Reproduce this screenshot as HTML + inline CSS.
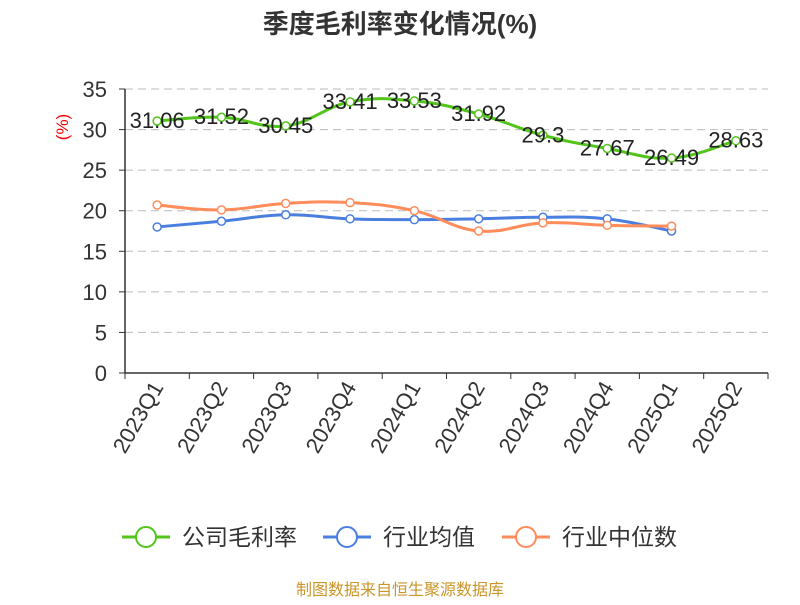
<!DOCTYPE html>
<html><head><meta charset="utf-8"><style>
body{margin:0;background:#fff;}
svg text{font-family:"Liberation Sans","Noto Sans CJK SC",sans-serif;}
</style></head><body>
<svg id="chart" width="800" height="600" viewBox="0 0 800 600" xmlns="http://www.w3.org/2000/svg">
<text x="400" y="33" text-anchor="middle" font-size="26" font-weight="bold" fill="#333">季度毛利率变化情况(%)</text>
<text transform="translate(68,127) rotate(-90)" text-anchor="middle" font-size="17" fill="#e00">(%)</text>
<g id="grid"></g><g id="axes"></g><g id="series"></g>
<g>
<g><line x1="122" y1="537" x2="170" y2="537" stroke="#52c41a" stroke-width="3"/><circle cx="146" cy="537" r="10" fill="#fff" stroke="#52c41a" stroke-width="2"/><text x="182" y="545" font-size="23" fill="#333">公司毛利率</text></g>
<g><line x1="323" y1="537" x2="371" y2="537" stroke="#4a7fe0" stroke-width="3"/><circle cx="347" cy="537" r="10" fill="#fff" stroke="#4a7fe0" stroke-width="2"/><text x="383" y="545" font-size="23" fill="#333">行业均值</text></g>
<g><line x1="502" y1="537" x2="550" y2="537" stroke="#ff8c5a" stroke-width="3"/><circle cx="526" cy="537" r="10" fill="#fff" stroke="#ff8c5a" stroke-width="2"/><text x="562" y="545" font-size="23" fill="#333">行业中位数</text></g>
</g>
<text x="400" y="595" text-anchor="middle" font-size="16" fill="#c8962a">制图数据来自恒生聚源数据库</text>
</svg>
<script>
const categories=["2023Q1","2023Q2","2023Q3","2023Q4","2024Q1","2024Q2","2024Q3","2024Q4","2025Q1","2025Q2"];
const companyMargin=[31.06,31.52,30.45,33.41,33.53,31.92,29.3,27.67,26.49,28.63];
const industryAvg=[18.0,18.7,19.5,19.0,18.9,19.0,19.2,19.0,17.5];
const industryMedian=[20.7,20.1,20.9,21.0,20.0,17.5,18.5,18.2,18.1];
const yTicks=[0,5,10,15,20,25,30,35];
const NS="http://www.w3.org/2000/svg";
const x0=125,x1=768,yb=373,yt=89,yMax=35;
const band=(x1-x0)/categories.length;
const xS=i=>x0+band*(i+0.5);
const yS=v=>yb-(v/yMax)*(yb-yt);
function mk(t,a,p){const e=document.createElementNS(NS,t);for(const k in a)e.setAttribute(k,a[k]);p.appendChild(e);return e;}
const grid=document.getElementById('grid'),axes=document.getElementById('axes'),ser=document.getElementById('series');
yTicks.forEach(v=>{
 if(v>0){const g=mk('line',{x1:x0,x2:x1,y1:yS(v),y2:yS(v),stroke:'#bbb','stroke-dasharray':'8,5'},grid);
 
 }
 const t=mk('text',{x:107,y:yS(v)+8,'text-anchor':'end','font-size':22,fill:'#333'},axes);t.textContent=v;
 
 
 mk('line',{x1:x0-6,x2:x0,y1:yS(v),y2:yS(v),stroke:'#333'},axes);
});
const ya=mk('line',{x1:x0,x2:x0,y1:yt,y2:yb,stroke:'#333','stroke-width':1.5},axes);


const xa=mk('line',{x1:x0,x2:x1,y1:yb,y2:yb,stroke:'#333','stroke-width':1.5},axes);


for(let i=0;i<=categories.length;i++)mk('line',{x1:x0+band*i,x2:x0+band*i,y1:yb,y2:yb+6,stroke:'#333'},axes);
categories.forEach((c,i)=>{
 const t=mk('text',{transform:`translate(${xS(i)+7},${yb+14}) rotate(-60)`,'text-anchor':'end','font-size':22,fill:'#333'},axes);
 t.textContent=c;
 
 
});
function smooth(pts){
 let d=`M${pts[0][0]},${pts[0][1]}`;
 for(let i=0;i<pts.length-1;i++){
  const p0=pts[i-1]||pts[i],p1=pts[i],p2=pts[i+1],p3=pts[i+2]||p2,k=0.2;
  d+=` C${p1[0]+(p2[0]-p0[0])*k},${p1[1]+(p2[1]-p0[1])*k} ${p2[0]-(p3[0]-p1[0])*k},${p2[1]-(p3[1]-p1[1])*k} ${p2[0]},${p2[1]}`;
 }return d;}
function drawSeries(vals,color,name,labels){
 const g=mk('g',{},ser);
 
 
 const pts=vals.map((v,i)=>[xS(i),yS(v)]);
 mk('path',{d:smooth(pts),fill:'none',stroke:color,'stroke-width':3},g);
 pts.forEach((p,i)=>{
  const c=mk('circle',{cx:p[0],cy:p[1],r:4,fill:'#fff',stroke:color,'stroke-width':1.5},g);
  
  
  if(labels){const t=mk('text',{x:p[0],y:p[1]+7,'text-anchor':'middle','font-size':22,fill:'#222'},g);t.textContent=vals[i];
  
  }
 });
}
drawSeries(industryAvg,'#4a7fe0','industry-avg-series',false);
drawSeries(industryMedian,'#ff8c5a','industry-median-series',false);
drawSeries(companyMargin,'#52c41a','company-margin-series',true);
</script>
</body></html>
